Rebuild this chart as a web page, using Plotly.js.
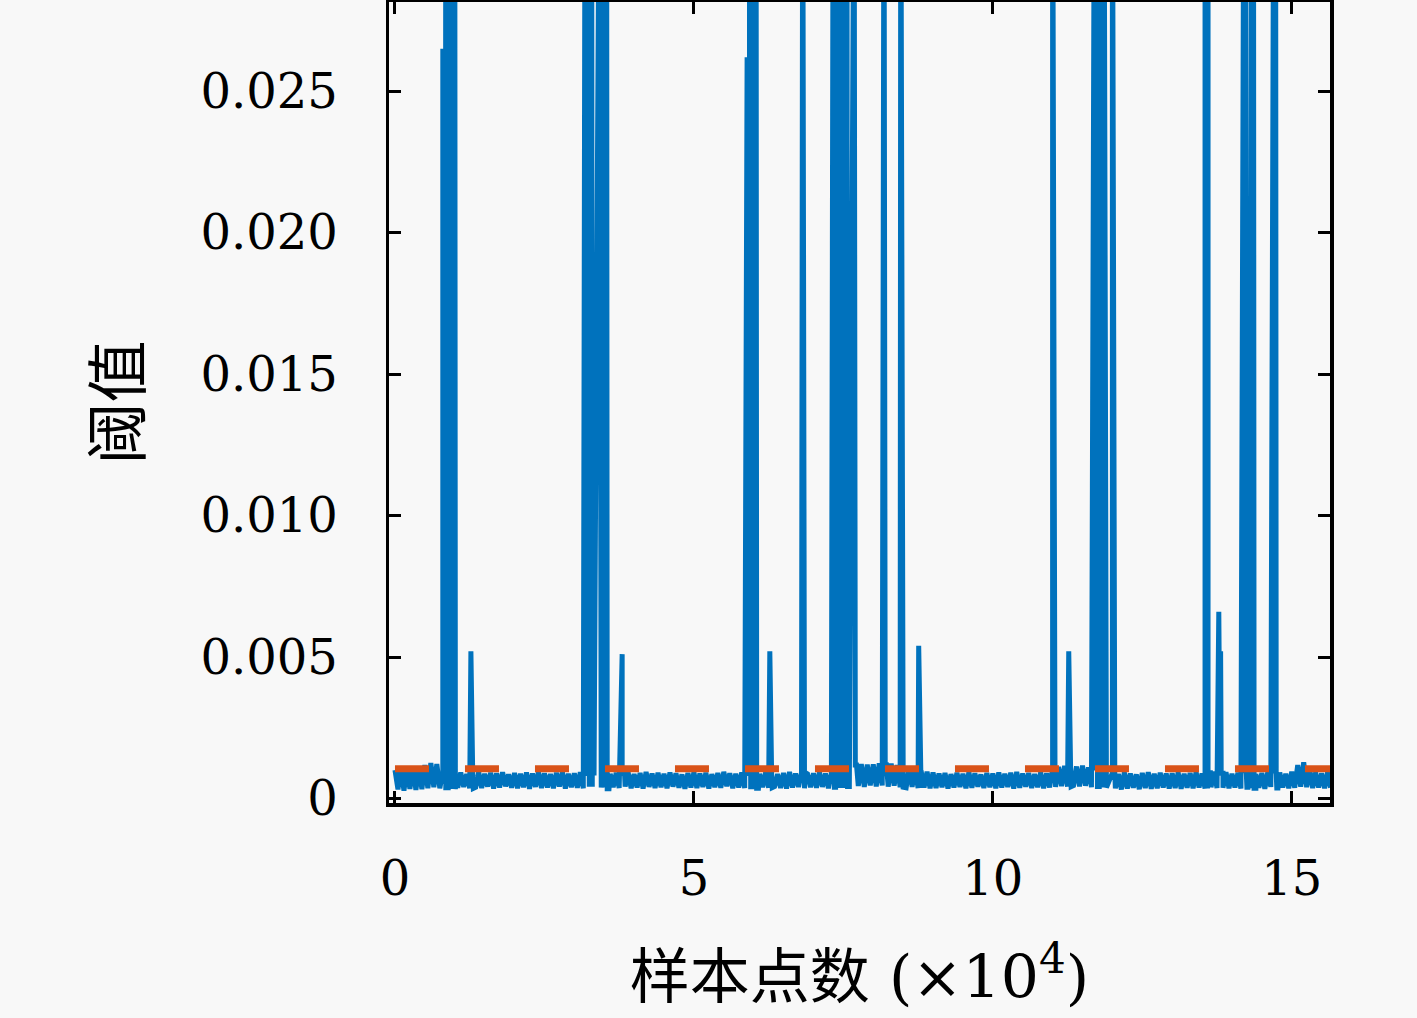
<!DOCTYPE html>
<html>
<head>
<meta charset="utf-8">
<script src="https://cdn.plot.ly/plotly-3.0.1.min.js"></script>
<style>body{margin:0;background:#f8f8f8}</style>
</head>
<body>
<div id="plot" style="width:1417px;height:1018px"></div>
<script>
// sample spacing of the baseline readings (x in units of 10^4 samples)
var step = 0.05;

// baseline noise band, one reading every 0.05 (null = signal away from baseline)
var baseline = [
    0.00100, 0.00032, 0.00108, 0.00028, 0.00104, 0.00034, 0.00110, 0.00030, 0.00106, 0.00033, 0.00118, 0.00036, 0.00125, 0.00040, 0.00122, 0.00036, 0.00095, 0.00038, 0.00090, 0.00034,
    0.00088, 0.00038, 0.00092, 0.00041, 0.00086, 0.00036, 0.00090, 0.00040, 0.00094, 0.00037, 0.00087, 0.00042, 0.00091, 0.00035, 0.00089, 0.00039, 0.00093, 0.00043, 0.00085, 0.00038,
    0.00090, 0.00036, 0.00087, 0.00040, 0.00092, 0.00034, 0.00088, 0.00041, 0.00095, 0.00037, 0.00089, 0.00039, 0.00086, 0.00036, 0.00091, 0.00042, 0.00094, 0.00035, 0.00087, 0.00040,
    0.00089, 0.00038, 0.00093, 0.00036, 0.00088, 0.00041, 0.00090, null, null, 0.00039, 0.00092, 0.00034, 0.00087, 0.00040, 0.00091, 0.00037, 0.00088, 0.00042, 0.00093, 0.00036,
    0.00086, 0.00039, 0.00090, 0.00035, 0.00094, 0.00041, 0.00088, 0.00037, 0.00091, 0.00040, 0.00087, 0.00036, 0.00092, 0.00042, 0.00089, 0.00038, 0.00085, 0.00034, 0.00090, 0.00039,
    0.00093, 0.00037, 0.00088, 0.00041, 0.00091, 0.00035, 0.00086, 0.00040, 0.00090, 0.00038, 0.00094, 0.00043, 0.00089, 0.00036, 0.00087, 0.00039, 0.00092, 0.00037, 0.00088, 0.00041,
    0.00091, 0.00036, 0.00087, 0.00040, 0.00093, 0.00038, 0.00089, 0.00042, 0.00086, 0.00037, 0.00090, 0.00035, 0.00094, 0.00039, 0.00088, 0.00041, 0.00092, 0.00036, 0.00087, 0.00040,
    0.00089, 0.00038, 0.00093, 0.00041, 0.00088, 0.00036, 0.00091, 0.00040, 0.00087, 0.00037, 0.00092, 0.00042, null, null, 0.00118, 0.00044, 0.00122, 0.00041, 0.00120, 0.00046,
    0.00121, 0.00043, 0.00124, 0.00046, 0.00119, 0.00042, 0.00123, 0.00045, 0.00118, 0.00040, 0.00112, 0.00038, 0.00108, 0.00041, 0.00104, 0.00037, 0.00098, 0.00039, 0.00095, 0.00036,
    0.00092, 0.00037, 0.00088, 0.00040, 0.00090, 0.00035, 0.00086, 0.00039, 0.00091, 0.00041, 0.00087, 0.00036, 0.00093, 0.00038, 0.00089, 0.00042, 0.00085, 0.00037, 0.00090, 0.00040,
    0.00088, 0.00036, 0.00092, 0.00039, 0.00087, 0.00041, 0.00091, 0.00035, 0.00094, 0.00038, 0.00088, 0.00042, 0.00090, 0.00037, 0.00086, 0.00040, 0.00092, 0.00036, 0.00089, 0.00039,
    0.00105, 0.00041, 0.00112, 0.00044, 0.00115, 0.00042, 0.00118, 0.00046, 0.00113, 0.00043, 0.00116, 0.00045, 0.00110, 0.00040, 0.00108, 0.00042, 0.00105, 0.00039, null, null,
    0.00090, 0.00036, 0.00087, 0.00032, 0.00092, 0.00035, 0.00088, 0.00038, 0.00085, 0.00033, 0.00090, 0.00037, 0.00093, 0.00034, 0.00087, 0.00036, 0.00091, 0.00039, 0.00088, 0.00035,
    0.00089, 0.00037, 0.00092, 0.00034, 0.00087, 0.00038, 0.00090, 0.00036, 0.00094, 0.00039, 0.00088, 0.00035, 0.00091, 0.00040, 0.00095, 0.00037, 0.00089, 0.00038, 0.00093, 0.00036,
    0.00087, 0.00039, 0.00091, 0.00035, 0.00089, 0.00040, 0.00092, 0.00036, 0.00086, 0.00038, 0.00090, 0.00034, 0.00094, 0.00041, 0.00088, 0.00037, 0.00092, 0.00039, 0.00087, 0.00036,
    0.00095, 0.00038, 0.00118, 0.00042, 0.00128, 0.00040, 0.00105, 0.00037, 0.00092, 0.00039, 0.00089, 0.00036, 0.00093, 0.00038
];

// spikes: position and peak (0.035 = runs off the top of the axes)
var spikeX = [0.80, 0.85, 0.89, 0.93, 0.97, 1.00, 1.27,
    3.18, 3.22, 3.26, 3.29, 3.42, 3.46, 3.50, 3.54, 3.80,
    5.89, 5.93, 5.97, 6.01, 6.04, 6.27, 6.82,
    7.33, 7.37, 7.41, 7.45, 7.49, 7.53, 7.56, 7.68, 8.18, 8.46, 8.76,
    11.00, 11.27, 11.70, 11.74, 11.78, 11.82, 11.86, 12.00,
    13.55, 13.60, 13.78, 13.81, 14.20, 14.23, 14.33, 14.36, 14.70, 14.73];
var spikePeak = [0.0265, 0.035, 0.035, 0.035, 0.035, 0.035, 0.0052,
    0.035, 0.035, 0.035, 0.035, 0.035, 0.035, 0.035, 0.035, 0.0051,
    0.0262, 0.035, 0.035, 0.035, 0.035, 0.0052, 0.035,
    0.035, 0.035, 0.035, 0.035, 0.035, 0.035, 0.035, 0.035, 0.035, 0.035, 0.0054,
    0.035, 0.0052, 0.035, 0.035, 0.035, 0.035, 0.035, 0.035,
    0.035, 0.035, 0.0066, 0.0052, 0.035, 0.035, 0.035, 0.035, 0.035, 0.035];

// threshold
var thrX = [0, 15.64];
var thrY = [0.00105, 0.00105];

var xTicks = [0, 5, 10, 15];
var xTickText = ['0', '5', '10', '15'];
var yTicks = [0, 0.005, 0.010, 0.015, 0.020, 0.025];
var yTickText = ['0', '0.005', '0.010', '0.015', '0.020', '0.025'];

// merge baseline readings and spikes into one signal
var pts = [];
for (var i = 0; i < baseline.length; i++) {
    if (baseline[i] !== null) pts.push({x: i * step, y: baseline[i], o: 0});
}
for (var j = 0; j < spikeX.length; j++) {
    var k = Math.round(spikeX[j] / step);
    var foot = baseline[k] !== null && baseline[k] !== undefined ? baseline[k] : 0.0006;
    pts.push({x: spikeX[j], y: spikePeak[j], o: 2});
    pts.push({x: spikeX[j] + 0.04, y: foot, o: 1});
}
pts.sort(function (a, b) { return a.x - b.x || a.o - b.o; });

var data = [
    {
        type: 'scatter', mode: 'lines',
        x: pts.map(function (p) { return p.x; }),
        y: pts.map(function (p) { return p.y; }),
        line: {color: '#0072BD', width: 5, simplify: false},
        hoverinfo: 'skip'
    },
    {
        type: 'scatter', mode: 'lines',
        x: thrX, y: thrY,
        line: {color: '#D95319', width: 7, dash: '34px,36px'},
        hoverinfo: 'skip'
    }
];

var axisCommon = {
    showline: true, linecolor: '#000', linewidth: 3.5, mirror: 'ticks',
    ticks: 'inside', ticklen: 12, tickwidth: 3, tickcolor: '#000',
    showgrid: false, zeroline: false,
    tickfont: {family: 'DejaVu Serif', size: 48, color: '#000'}
};

var layout = {
    width: 1417, height: 1018,
    margin: {l: 389, r: 87, t: 2, b: 215},
    paper_bgcolor: '#f8f8f8',
    plot_bgcolor: '#f8f8f8',
    showlegend: false,
    xaxis: Object.assign({}, axisCommon, {
        range: [-0.1, 15.64],
        tickvals: xTicks, ticktext: xTickText,
        ticklabelstandoff: 31,
        title: {text: '样本点数 (×10<sup>4</sup>)', standoff: 52,
            font: {family: 'DejaVu Serif, Noto Sans CJK SC', size: 60, color: '#000'}}
    }),
    yaxis: Object.assign({}, axisCommon, {
        range: [-0.00016, 0.02815],
        tickvals: yTicks, ticktext: yTickText,
        ticklabelstandoff: 38,
        title: {text: '阈值', standoff: 40,
            font: {family: 'Noto Sans CJK SC', size: 62, color: '#000'}}
    })
};

Plotly.newPlot('plot', data, layout, {staticPlot: true});
</script>
</body>
</html>
